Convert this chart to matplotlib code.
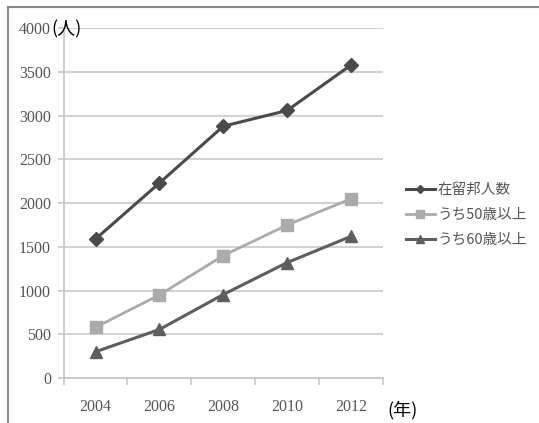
import matplotlib
matplotlib.use('Agg')
import matplotlib.pyplot as plt
from matplotlib.lines import Line2D

# data
years = ['2004', '2006', '2008', '2010', '2012']
residents = [1590, 2230, 2880, 3060, 3580]
over_50 = [580, 950, 1400, 1750, 2050]
over_60 = [300, 555, 955, 1320, 1620]
series_names = ['在留邦人数', 'うち50歳以上', 'うち60歳以上']
y_ticks = [0, 500, 1000, 1500, 2000, 2500, 3000, 3500, 4000]

cjk = ['Noto Sans CJK JP', 'DejaVu Sans']
num_font = 'Liberation Serif'

fig = plt.figure(figsize=(5.39, 4.23), dpi=100)
ax = fig.add_axes([0.118, 0.1064, 0.5925, 0.8267])

x = list(range(len(years)))
ax.plot(x, residents, color='#4a4a4a', lw=2.2, marker='D', ms=7,
        label=series_names[0])
ax.plot(x, over_50, color='#ababab', lw=2.0, marker='s', ms=8.5,
        label=series_names[1])
ax.plot(x, over_60, color='#5e5e5e', lw=2.2, marker='^', ms=9,
        label=series_names[2])

ax.set_xlim(-0.5, len(years) - 0.5)
ax.set_ylim(0, 4000)
ax.set_yticks(y_ticks)
ax.set_yticklabels([str(v) for v in y_ticks], fontfamily=num_font,
                   fontsize=11.5, color='#555555')
ax.set_xticks(x)
ax.set_xticklabels(years, fontfamily=num_font, fontsize=11.5, color='#555555')
ax.set_xticks([i - 0.5 for i in range(len(years) + 1)], minor=True)
ax.tick_params(axis='x', which='major', length=0, pad=15)
ax.tick_params(axis='x', which='minor', length=5, color='#c8c8c8', width=1.2)
ax.tick_params(axis='y', length=4, color='#c8c8c8', width=1.2, pad=5)

ax.grid(axis='y', color='#d2d2d2', lw=1.5)
ax.set_axisbelow(True)
for side in ['top', 'right']:
    ax.spines[side].set_visible(False)
for side in ['left', 'bottom']:
    ax.spines[side].set_color('#c8c8c8')
    ax.spines[side].set_linewidth(1.3)

leg = ax.legend(loc='center left', bbox_to_anchor=(1.03, 0.465),
                frameon=False, prop={'family': cjk, 'size': 10.5},
                labelcolor='#555555', handlelength=2.0, handletextpad=0.2,
                labelspacing=0.75, markerscale=0.65)

fig.text(51 / 539, 1 - 29 / 423, '(人)', fontfamily=cjk, fontsize=13,
         va='center', ha='left', color='black')
fig.text(387 / 539, 1 - 410 / 423, '(年)', fontfamily=cjk, fontsize=13,
         va='center', ha='left', color='black')

# outer frame (top and left edges visible)
fig.add_artist(Line2D([7.5 / 539, 7.5 / 539], [0, 1 - 7 / 423],
                      transform=fig.transFigure, color='#8a8a8a', lw=1.5))
fig.add_artist(Line2D([7.5 / 539, 1], [1 - 7 / 423, 1 - 7 / 423],
                      transform=fig.transFigure, color='#8a8a8a', lw=1.5))

fig.savefig('out.png', dpi=100)
